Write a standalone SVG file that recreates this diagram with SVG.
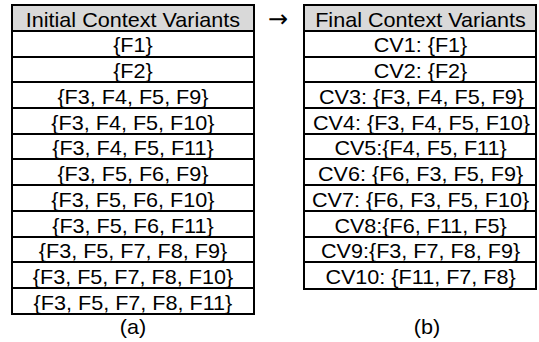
<svg xmlns="http://www.w3.org/2000/svg" width="539" height="342" viewBox="0 0 539 342">
<style>
.hdr{fill:#d9d9d9;stroke:none}
.ln{stroke:#000;stroke-width:2;fill:none}
text{font-family:"Liberation Sans",Arial,Helvetica,sans-serif;font-size:20px;fill:#000;text-anchor:middle}
</style>
<rect width="539" height="342" fill="#fff"/>
<g id="table-a">
<rect class="hdr" x="12" y="5" width="242" height="26"/>
<rect class="ln" x="12" y="5" width="242" height="309"/>
<path class="ln" d="M12 31H254M12 57H254M12 82H254M12 108H254M12 134H254M12 159H254M12 185H254M12 211H254M12 237H254M12 262H254M12 288H254"/>
<g transform="scale(1.08,1)">
<text x="123.1" y="26.7">Initial Context Variants</text>
<text x="123.1" y="52.4">{F1}</text>
<text x="123.1" y="78.2">{F2}</text>
<text x="123.1" y="103.9">{F3, F4, F5, F9}</text>
<text x="123.1" y="129.7">{F3, F4, F5, F10}</text>
<text x="123.1" y="155.4">{F3, F4, F5, F11}</text>
<text x="123.1" y="181.2">{F3, F5, F6, F9}</text>
<text x="123.1" y="206.9">{F3, F5, F6, F10}</text>
<text x="123.1" y="232.7">{F3, F5, F6, F11}</text>
<text x="123.1" y="258.4">{F3, F5, F7, F8, F9}</text>
<text x="123.1" y="284.2">{F3, F5, F7, F8, F10}</text>
<text x="123.1" y="309.9">{F3, F5, F7, F8, F11}</text>
<text x="123.1" y="334">(a)</text>
</g>
</g>
<g id="arrow">
<text x="278" y="27" style="font-family:'DejaVu Sans',sans-serif;font-size:24px">→</text>
</g>
<g id="table-b">
<rect class="hdr" x="304" y="5" width="232" height="26"/>
<rect class="ln" x="304" y="5" width="232" height="284"/>
<path class="ln" d="M304 31H536M304 57H536M304 82H536M304 108H536M304 134H536M304 159H536M304 185H536M304 211H536M304 237H536M304 262H536"/>
<g transform="scale(1.08,1)">
<text x="389.4" y="26.7">Final Context Variants</text>
<text x="389.4" y="52.4">CV1: {F1}</text>
<text x="389.4" y="78.2">CV2: {F2}</text>
<text x="390.3" y="103.9">CV3: {F3, F4, F5, F9}</text>
<text x="390.3" y="129.7">CV4: {F3, F4, F5, F10}</text>
<text x="389.4" y="155.4">CV5:{F4, F5, F11}</text>
<text x="389.4" y="181.2">CV6: {F6, F3, F5, F9}</text>
<text x="389.4" y="206.9">CV7: {F6, F3, F5, F10}</text>
<text x="389.4" y="232.7">CV8:{F6, F11, F5}</text>
<text x="389.4" y="258.4">CV9:{F3, F7, F8, F9}</text>
<text x="389.4" y="284.2">CV10: {F11, F7, F8}</text>
<text x="395.4" y="334">(b)</text>
</g>
</g>
</svg>
